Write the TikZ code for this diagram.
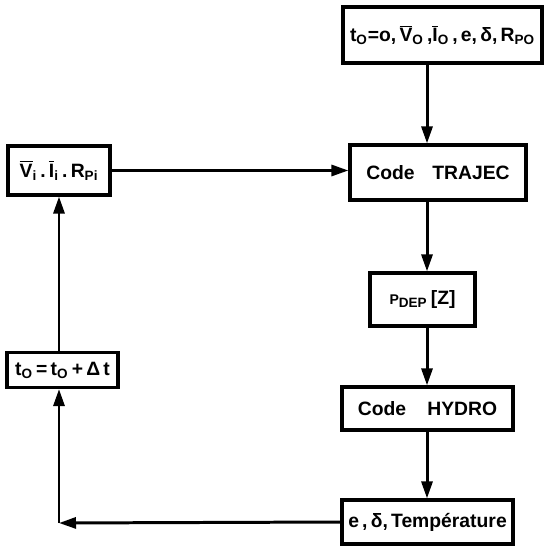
\documentclass[tikz,border=0pt]{standalone}
\usepackage{fontspec}
\setmainfont{Liberation Sans}
\usetikzlibrary{arrows.meta, positioning, calc}

\newcommand{\barred}[1]{$\overline{\mbox{#1}}$}

\begin{document}
\begin{tikzpicture}[
  x=0.02cm, y=-0.02cm,
  box/.style={
    rectangle,
    draw,
    line width=1.8pt,
    inner sep=0pt,
    align=center
  },
  every node/.style={font=\fontsize{11}{13}\selectfont\bfseries},
  arrow/.style={-{Triangle[length=3.4mm,width=2.2mm]}, line width=1.7pt}
]

\useasboundingbox (0,0) rectangle (546,546);

% ============================================================
% Right column: codes
% ============================================================

\node[box, minimum width=199*0.02cm, minimum height=56*0.02cm] (init) at (442.5,35)
  {t\textsubscript{O}=o,\,\barred{V}\textsubscript{O}\,,\barred{I}\textsubscript{O}\,,\,e,\,δ,\,R\textsubscript{PO}};

\node[box, minimum width=176*0.02cm, minimum height=55*0.02cm] (trajec) at (438,172.5)
  {Code\hspace{10pt}TRAJEC};

\node[box, minimum width=105*0.02cm, minimum height=53*0.02cm] (pdep) at (422.5,299.5)
  {{\footnotesize P}\textsubscript{DEP}\,[Z]};

\node[box, minimum width=171*0.02cm, minimum height=43*0.02cm] (hydro) at (427.5,408.5)
  {Code\hspace{12pt}HYDRO};

\node[box, minimum width=171*0.02cm, minimum height=44*0.02cm] (temp) at (427.5,522)
  {e\,,\,δ,\,Température};

\coordinate (col) at (427,0);

\draw[arrow] (init.south -| col) -- (trajec.north -| col);
\draw[arrow] (trajec.south -| col) -- (pdep.north -| col);
\draw[arrow] (pdep.south -| col) -- (hydro.north -| col);
\draw[arrow] (hydro.south -| col) -- (temp.north -| col);

% ============================================================
% Left column: time step loop
% ============================================================

\node[box, minimum width=102*0.02cm, minimum height=49*0.02cm] (state) at (59,170.5)
  {\barred{V}\textsubscript{i}\,.\,\barred{I}\textsubscript{i}\,.\,R\textsubscript{Pi}};

\node[box, minimum width=111*0.02cm, minimum height=35*0.02cm] (advance) at (62.5,370)
  {t\textsubscript{O}\,=\,t\textsubscript{O}\,+\,Δ\,t};

\coordinate (corner) at (59,523);

\draw[arrow] (temp.west) -- (corner);
\draw[arrow] (corner) -- (corner |- advance.south);
\draw[arrow] (advance.north -| corner) -- (state.south -| corner);
\draw[arrow] (state.east) -- (trajec.west |- state.east);

\end{tikzpicture}
\end{document}
